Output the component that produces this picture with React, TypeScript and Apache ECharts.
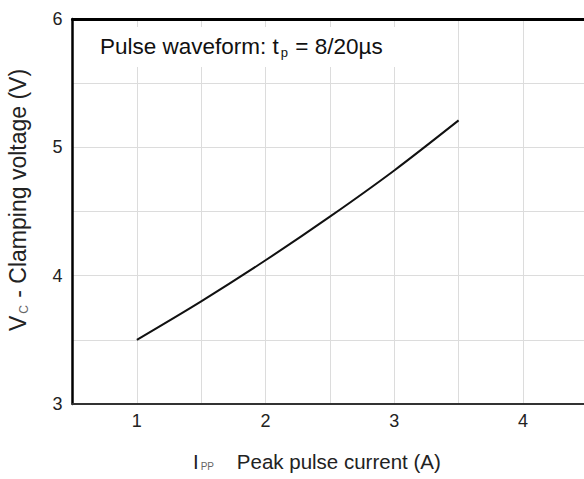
import React, { useEffect, useRef } from "react";
import * as echarts from "echarts";

const currentA = [1, 1.5, 2, 2.5, 3, 3.5];
const clampV = [3.5, 3.8, 4.12, 4.46, 4.82, 5.21];
const xMin = 0.5;
const xMax = 4.8;
const yMin = 3;
const yMax = 6;
const FONT = "'Liberation Sans', Arial, sans-serif";

export default function App() {
  const ref = useRef<HTMLDivElement>(null);
  useEffect(() => {
    document.body.style.margin = "0";
    document.body.style.overflow = "hidden";
    const chart = echarts.init(ref.current!, null, { renderer: "svg" });
    const intLabel = (v: number) => (Math.abs(v - Math.round(v)) < 1e-6 ? String(Math.round(v)) : "");
    chart.setOption({
      animation: false,
      backgroundColor: "#fff",
      textStyle: { fontFamily: FONT },
      grid: { left: 72.5, top: 19, width: 553.4, height: 385 },
      xAxis: [
        {
          type: "value",
          min: xMin,
          max: xMax,
          interval: 0.5,
          position: "bottom",
          axisLine: { show: true, onZero: false, lineStyle: { color: "#333", width: 2 } },
          axisTick: { show: false },
          axisLabel: { formatter: intLabel, color: "#222", fontSize: 18, margin: 8, fontFamily: FONT },
          splitLine: { show: true, lineStyle: { color: "#dcdcdc", width: 1 } },
        },
        {
          type: "value",
          min: xMin,
          max: xMax,
          position: "top",
          axisLine: { show: true, onZero: false, lineStyle: { color: "#000", width: 3 } },
          axisTick: { show: false },
          axisLabel: { show: false },
          splitLine: { show: false },
        },
      ],
      yAxis: {
        type: "value",
        min: yMin,
        max: yMax,
        interval: 0.5,
        axisLine: { show: true, onZero: false, lineStyle: { color: "#000", width: 2.5 } },
        axisTick: { show: false },
        axisLabel: { formatter: intLabel, color: "#222", fontSize: 18, margin: 10, fontFamily: FONT },
        splitLine: { show: true, lineStyle: { color: "#dcdcdc", width: 1 } },
      },
      graphic: [
        {
          type: "text",
          left: 86,
          top: 27,
          z: 10,
          style: {
            text: "{a|Pulse waveform: t}{sub|p}{a| = 8/20µs}",
            backgroundColor: "#fff",
            padding: [6, 14, 8, 14],
            rich: {
              a: { fontSize: 22.5, fill: "#111", fontFamily: FONT },
              sub: { fontSize: 13, fill: "#111", fontFamily: FONT, padding: [13, 1, 0, 2] },
            },
          },
        },
        {
          type: "text",
          left: 193,
          top: 451,
          style: {
            text: "{i|I}{sub|PP}{t|    Peak pulse current (A)}",
            rich: {
              i: { fontSize: 20.5, fill: "#222", fontFamily: FONT },
              sub: { fontSize: 10, fill: "#666", fontFamily: FONT, padding: [10, 0, 0, 2] },
              t: { fontSize: 20.5, fill: "#222", fontFamily: FONT },
            },
          },
        },
        {
          type: "text",
          x: 18,
          y: 200,
          rotation: Math.PI / 2,
          style: {
            text: "{v|V}{sub|C}{t| - Clamping voltage (V)}",
            align: "center",
            verticalAlign: "middle",
            rich: {
              v: { fontSize: 23, fill: "#222", fontFamily: FONT },
              sub: { fontSize: 12, fill: "#666", fontFamily: FONT, padding: [11, 1, 0, 2] },
              t: { fontSize: 23, fill: "#222", fontFamily: FONT },
            },
          },
        },
      ],
      series: [
        {
          type: "line",
          xAxisIndex: 0,
          data: currentA.map((x, i) => [x, clampV[i]]),
          smooth: 0.3,
          showSymbol: false,
          lineStyle: { color: "#111", width: 2 },
        },
      ],
    });
    return () => chart.dispose();
  }, []);
  return (
    <div style={{ width: 584, height: 479, overflow: "hidden" }}>
      <div ref={ref} style={{ width: 640, height: 479 }} />
    </div>
  );
}
